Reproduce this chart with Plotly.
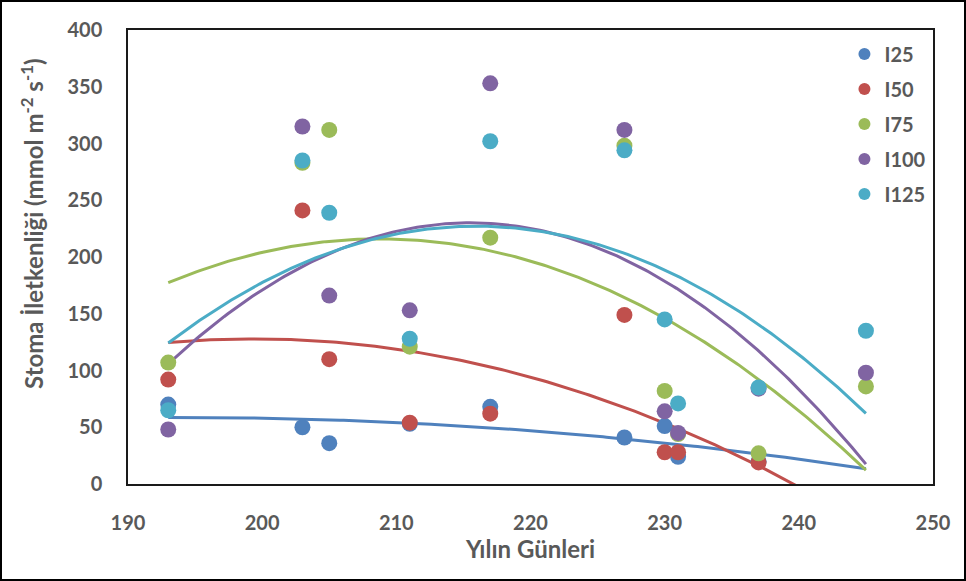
import numpy as np
import plotly.graph_objects as go

days = [193, 203, 205, 211, 217, 227, 230, 231, 237, 245]
series_names = ["I25", "I50", "I75", "I100", "I125"]
i25 = [70, 50, 36, 53, 68, 41, 51, 24, 20, None]
i50 = [92, 241, 110, 54, 62, 149, 28, 28, 19, None]
i75 = [107, 283, 312, 121, 217, 298, 82, 44, 27, 86]
i100 = [48, 315, 166, 153, 353, 312, 64, 45, 84, 98]
i125 = [65, 285, 239, 128, 302, 294, 145, 71, 85, 135]
colors = ["#4F81BD", "#C0504D", "#9BBB59", "#8064A2", "#4BACC6"]
x_ticks = [190, 200, 210, 220, 230, 240, 250]
y_ticks = [0, 50, 100, 150, 200, 250, 300, 350, 400]

all_series = [i25, i50, i75, i100, i125]

fig = go.Figure()

# polynomial (order 2) trendlines fitted to each series
for name, vals, col in zip(series_names, all_series, colors):
    xs = np.array([d for d, v in zip(days, vals) if v is not None], dtype=float)
    ys = np.array([v for v in vals if v is not None], dtype=float)
    coef = np.polyfit(xs, ys, 2)
    tx = np.linspace(193, 245, 200)
    fig.add_trace(go.Scatter(x=tx, y=np.polyval(coef, tx), mode="lines",
                             line=dict(color=col, width=3), showlegend=False,
                             hoverinfo="skip"))

for name, vals, col in zip(series_names, all_series, colors):
    fig.add_trace(go.Scatter(x=days, y=vals, mode="markers", name=name,
                             legendgroup=name,
                             marker=dict(color=col, size=16, line=dict(width=0))))

font_col = "#595959"
fam = "Lato"
fig.update_layout(
    width=966, height=581,
    margin=dict(l=128, r=33, t=30, b=97),
    paper_bgcolor="white", plot_bgcolor="white",
    font=dict(family=fam, color=font_col),
    showlegend=True,
    legend=dict(x=0.89, y=0.99, xanchor="left", yanchor="top",
                font=dict(size=20, color=font_col, family=fam, weight="bold"),
                bgcolor="rgba(0,0,0,0)", itemsizing="constant",
                tracegroupgap=6),
    xaxis=dict(range=[190, 250], tickvals=x_ticks, showgrid=False, zeroline=False,
               showline=True, linecolor="#1a1a1a", linewidth=1.5, mirror=True,
               ticks="", ticklabelstandoff=20,
               tickfont=dict(size=20, color=font_col, family=fam, weight="bold"),
               title=dict(text="<b>Yılın Günleri</b>", standoff=8,
                          font=dict(size=24, color=font_col, family=fam))),
    yaxis=dict(range=[0, 400], tickvals=y_ticks, showgrid=False, zeroline=False,
               showline=True, linecolor="#1a1a1a", linewidth=1.5, mirror=True,
               ticks="", ticklabelstandoff=20,
               tickfont=dict(size=20, color=font_col, family=fam, weight="bold")),
)

pw, ph = 966 - 128 - 33, 581 - 30 - 97
fig.add_annotation(text="<b>Stoma İletkenliği (mmol m<sup>-2</sup> s<sup>-1</sup>)</b>",
                   xref="paper", yref="paper", x=(32 - 128) / pw, y=(484 - 224) / ph,
                   xanchor="center", yanchor="middle", textangle=-90, showarrow=False,
                   font=dict(size=24, color=font_col, family=fam))
fig.add_shape(type="rect", xref="paper", yref="paper",
              x0=-127 / pw, x1=1 + 32 / pw, y0=-96 / ph, y1=1 + 29 / ph,
              line=dict(color="black", width=2), fillcolor="rgba(0,0,0,0)", layer="below")

fig.write_html("out.html")
